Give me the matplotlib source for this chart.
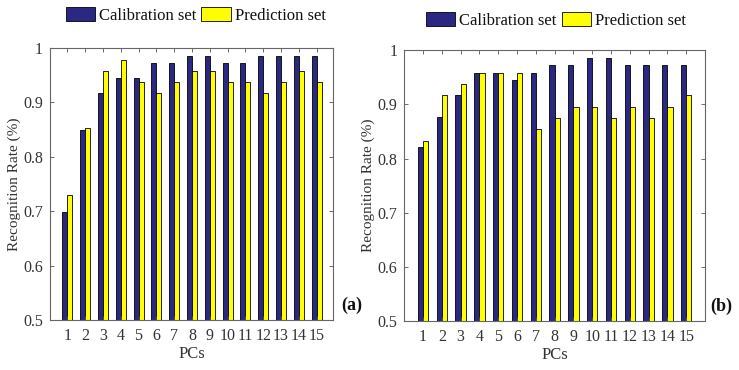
import numpy as np
import matplotlib
matplotlib.use('Agg')
import matplotlib.pyplot as plt

plt.rcParams['font.family'] = ['Liberation Serif', 'DejaVu Serif']

pcs = np.arange(1, 16)
pc_labels = [str(p) for p in pcs]

# panel (a)
cal_a = [0.699, 0.849, 0.918, 0.945, 0.945, 0.973, 0.973, 0.986, 0.986,
         0.973, 0.973, 0.986, 0.986, 0.986, 0.986]
pred_a = [0.729, 0.854, 0.958, 0.979, 0.9375, 0.917, 0.9375, 0.958, 0.958,
          0.9375, 0.9375, 0.917, 0.9375, 0.958, 0.9375]

# panel (b)
cal_b = [0.822, 0.877, 0.918, 0.959, 0.959, 0.945, 0.959, 0.973, 0.973,
         0.986, 0.986, 0.973, 0.973, 0.973, 0.973]
pred_b = [0.833, 0.917, 0.9375, 0.958, 0.958, 0.958, 0.854, 0.875, 0.896,
          0.896, 0.875, 0.896, 0.875, 0.896, 0.917]

navy = '#2b2883'
yellow = '#ffff00'
txt = '#333333'

fig = plt.figure(figsize=(7.39, 3.70), dpi=100)

def draw(ax, cal, pred, xlim, tag, tagx, legx, legy):
    w = 0.28
    b1 = ax.bar(pcs - w / 2, np.array(cal) - 0.5, w, bottom=0.5, color=navy,
                edgecolor='black', linewidth=0.6, label='Calibration set')
    b2 = ax.bar(pcs + w / 2, np.array(pred) - 0.5, w, bottom=0.5, color=yellow,
                edgecolor='black', linewidth=0.6, label='Prediction set')
    ax.set_ylim(0.5, 1)
    ax.set_xlim(*xlim)
    ax.set_xticks(pcs)
    ax.set_xticklabels(pc_labels)
    ax.set_yticks([0.5, 0.6, 0.7, 0.8, 0.9, 1])
    ax.set_yticklabels(['0.5', '0.6', '0.7', '0.8', '0.9', '1'])
    ax.tick_params(direction='in', top=True, right=True, length=3,
                   width=0.6, colors='#555555', labelcolor=txt, labelsize=11.5,
                   pad=5)
    ax.tick_params(axis='x', pad=6)
    for s in ax.spines.values():
        s.set_color('#666666')
        s.set_linewidth(0.8)
    ax.set_xlabel('PCs', fontsize=12, color=txt, labelpad=1)
    ax.set_ylabel('Recognition Rate (%)', fontsize=11, color=txt, labelpad=1.5)
    ax.text(tagx, 0.055, tag, transform=ax.transAxes, fontsize=13,
            fontweight='bold', color='#111111', va='center', ha='left')
    ax.legend(handles=[b1, b2], loc='center', bbox_to_anchor=(legx, legy),
              ncol=2, frameon=False, fontsize=12, handlelength=1.75,
              handleheight=0.95, columnspacing=0.3, handletextpad=0.25,
              labelcolor='#111111')

ax1 = fig.add_axes([0.0677, 0.135, 0.383, 0.735])
draw(ax1, cal_a, pred_a, (0.03, 15.92), '(a)', 1.03, 0.515, 1.12)

ax2 = fig.add_axes([0.547, 0.132, 0.407, 0.732])
draw(ax2, cal_b, pred_b, (0.0, 16.0), '(b)', 1.017, 0.505, 1.11)

fig.savefig('out.png', dpi=100)
